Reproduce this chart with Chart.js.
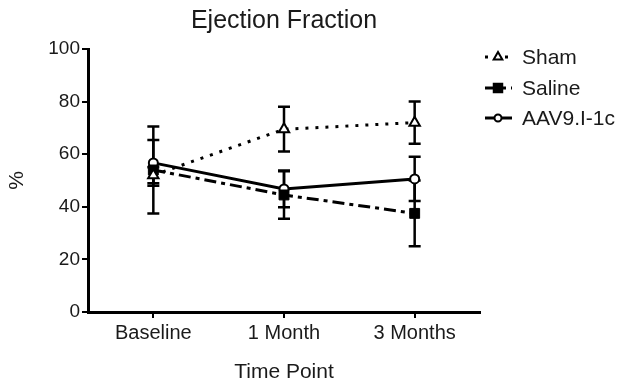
<!DOCTYPE html>
<html lang="en">
<head>
  <meta charset="UTF-8">
  <title>Ejection Fraction</title>
  <script src="https://cdn.jsdelivr.net/npm/chart.js"></script>
  <style>
    html, body { margin: 0; padding: 0; background: #fff; }
    #wrap { width: 619px; height: 386px; }
  </style>
</head>
<body>
  <div id="wrap"><canvas id="grafico" width="619" height="386"></canvas></div>

  <script>
    const categorias = ['Baseline', '1 Month', '3 Months'];
    const sham = [52, 69.5, 72];
    const shamErr = [3, 8.5, 8];
    const saline = [54, 44.5, 37.5];
    const salineErr = [16.5, 9, 12.5];
    const aav = [56.7, 46.8, 50.6];
    const aavErr = [8.7, 7, 8.4];
    const yTicks = [0, 20, 40, 60, 80, 100];

    const FONT = 'Liberation Sans, Arial, sans-serif';
    const errores = [shamErr, salineErr, aavErr];

    // barras de error dibujadas debajo de los marcadores
    const errorBars = {
      id: 'errorBars',
      beforeDatasetsDraw(chart) {
        const ctx = chart.ctx;
        const y = chart.scales.y;
        ctx.save();
        ctx.strokeStyle = '#000';
        ctx.lineWidth = 2.5;
        ctx.setLineDash([]);
        chart.data.datasets.forEach((ds, i) => {
          const meta = chart.getDatasetMeta(i);
          meta.data.forEach((pt, j) => {
            const v = ds.data[j], e = errores[i][j];
            const top = y.getPixelForValue(v + e);
            const bot = y.getPixelForValue(v - e);
            ctx.beginPath();
            ctx.moveTo(pt.x, top); ctx.lineTo(pt.x, bot);
            ctx.moveTo(pt.x - 6, top); ctx.lineTo(pt.x + 6, top);
            ctx.moveTo(pt.x - 6, bot); ctx.lineTo(pt.x + 6, bot);
            ctx.stroke();
          });
        });
        ctx.restore();
      }
    };

    // título y leyenda
    const extras = {
      id: 'extras',
      afterDraw(chart) {
        const ctx = chart.ctx;
        const area = chart.chartArea;
        ctx.save();
        ctx.fillStyle = '#1a1a1a';
        ctx.font = '25px ' + FONT;
        ctx.textAlign = 'center';
        ctx.textBaseline = 'alphabetic';
        ctx.fillText('Ejection Fraction', (area.left + area.right) / 2, 28);

        ctx.textBaseline = 'middle';
        const ys = [57, 88, 118];
        chart.data.datasets.forEach((ds, i) => {
          const yy = ys[i];
          ctx.strokeStyle = '#000';
          ctx.lineWidth = 3;
          ctx.setLineDash(ds.borderDash || []);
          ctx.beginPath();
          ctx.moveTo(485, yy); ctx.lineTo(512, yy);
          ctx.stroke();
          ctx.setLineDash([]);
          ctx.lineWidth = 2;
          ctx.fillStyle = ds.pointBackgroundColor;
          ctx.strokeStyle = '#000';
          Chart.helpers.drawPoint(ctx, {
            pointStyle: ds.pointStyle, radius: ds.pointRadius - 1, rotation: 0, borderWidth: 2
          }, 498, yy);
          ctx.fillStyle = '#1a1a1a';
          ctx.font = '21px ' + FONT;
          ctx.textAlign = 'left';
          ctx.fillText(ds.label, 522, yy + 1);
        });
        ctx.restore();
      }
    };

    const ctx = document.getElementById('grafico').getContext('2d');
    new Chart(ctx, {
      type: 'line',
      data: {
        labels: categorias,
        datasets: [{
          label: 'Sham',
          data: sham,
          borderColor: '#000',
          borderWidth: 3,
          borderDash: [3, 7],
          pointStyle: 'triangle',
          pointRadius: 6,
          pointBackgroundColor: '#fff',
          pointBorderColor: '#000',
          pointBorderWidth: 2
        }, {
          label: 'Saline',
          data: saline,
          borderColor: '#000',
          borderWidth: 3,
          borderDash: [12, 5, 4, 5],
          pointStyle: 'rect',
          pointRadius: 7,
          pointBackgroundColor: '#000',
          pointBorderColor: '#000',
          pointBorderWidth: 1
        }, {
          label: 'AAV9.I-1c',
          data: aav,
          borderColor: '#000',
          borderWidth: 3,
          pointStyle: 'circle',
          pointRadius: 4.5,
          pointBackgroundColor: '#fff',
          pointBorderColor: '#000',
          pointBorderWidth: 2
        }]
      },
      options: {
        responsive: false,
        animation: false,
        layout: { padding: { top: 49, right: 139, bottom: 0, left: 0 } },
        plugins: {
          legend: { display: false },
          tooltip: { enabled: false },
          title: { display: false }
        },
        scales: {
          x: {
            offset: true,
            afterFit: s => { s.height = 74; },
            grid: { display: true, drawOnChartArea: false, drawTicks: true, tickLength: 6, color: '#000', lineWidth: 2 },
            border: { color: '#000', width: 3 },
            ticks: { color: '#1a1a1a', font: { family: FONT, size: 20 }, padding: 3 },
            title: { display: true, text: 'Time Point', color: '#1a1a1a', font: { family: FONT, size: 21 }, padding: { top: 15, bottom: 1.5 } }
          },
          y: {
            min: 0, max: 100,
            afterBuildTicks: s => { s.ticks = yTicks.map(v => ({ value: v })); },
            afterFit: s => { s.width = 88; },
            grid: { display: true, drawOnChartArea: false, drawTicks: true, tickLength: 6, color: '#000', lineWidth: 2 },
            border: { color: '#000', width: 3 },
            ticks: { color: '#1a1a1a', font: { family: FONT, size: 19 }, padding: 2 },
            title: { display: true, text: '%', color: '#1a1a1a', font: { family: FONT, size: 21 }, padding: { top: 5, bottom: 0 } }
          }
        }
      },
      plugins: [errorBars, extras]
    });
  </script>
</body>
</html>
